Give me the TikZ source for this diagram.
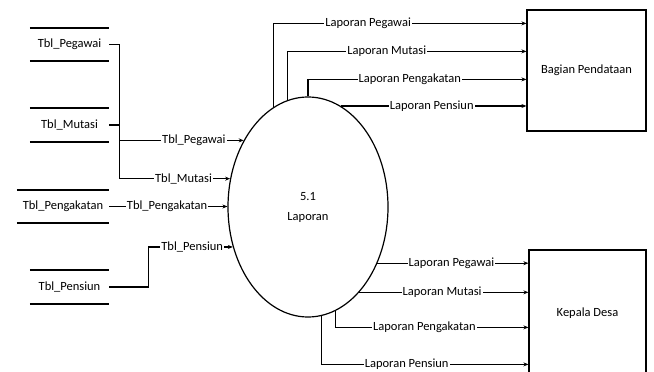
\documentclass[tikz,border=0pt]{standalone}
\usepackage{fontspec}
\setmainfont{Carlito}
\usetikzlibrary{shapes.geometric,arrows.meta}

\begin{document}
\begin{tikzpicture}[
    x=1pt, y=-1pt,
    font=\fontsize{12.5}{14}\selectfont,
    store/.style={minimum height=33pt, inner sep=0pt},
    storeline/.style={line width=2pt},
    process/.style={ellipse, draw, line width=1.2pt, minimum width=160pt, minimum height=220pt, inner sep=0pt, align=center, font=\fontsize{12.5}{20}\selectfont},
    entity/.style={rectangle, draw, line width=1.2pt, minimum width=119pt},
    arrow/.style={-{Stealth[length=5pt,width=4pt]}, line width=1.2pt},
    lbl/.style={fill=white, inner sep=1pt}
]
\useasboundingbox (0,0) rectangle (654,372);

% Data stores
\node[store, minimum width=79pt] (pegawai) at (69.5,44.5) {Tbl\_Pegawai};
\node[store, minimum width=79pt, minimum height=34pt] (mutasi) at (69.5,125) {Tbl\_Mutasi};
\node[store, minimum width=92pt] (pengakatan) at (63,206.5) {Tbl\_Pengakatan};
\node[store, minimum width=79pt, minimum height=34pt] (pensiun) at (69.5,287) {Tbl\_Pensiun};
\foreach \s in {pegawai,mutasi,pengakatan,pensiun}
    \draw[storeline] (\s.north west) -- (\s.north east) (\s.south west) -- (\s.south east);

% Process
\node[process] (proc) at (308,207) {5.1\\Laporan};

% External entities
\node[entity, minimum height=121pt] (bagian) at (586.5,70.5) {Bagian Pendataan};
\node[entity, minimum width=117pt, minimum height=126pt] (kepala) at (587.5,313) {Kepala Desa};

% Inputs
\draw[arrow] (pegawai.east) -- ++(10,0) |- node[lbl, pos=0.8] {Tbl\_Pegawai} (proc.134.1);
\draw[arrow] (mutasi.east) -- ++(10,0) |- node[lbl, pos=0.79] {Tbl\_Mutasi} (proc.160.8);
\draw[arrow] (pengakatan.east) -- node[lbl, pos=0.49] {Tbl\_Pengakatan} (pengakatan.east -| proc.west);
\draw[arrow] (pensiun.east) -- ++(39,0) |- node[lbl, pos=0.76] {Tbl\_Pensiun} (proc.208.9);

% Outputs to Bagian Pendataan
\draw[arrow] (proc.109.5) |- node[lbl, pos=0.687] {Laporan Pegawai} ([yshift=-14pt]bagian.north west);
\draw[arrow] (proc.101.2) |- node[lbl, pos=0.708] {Laporan Mutasi} ([yshift=-42pt]bagian.north west);
\draw[arrow] (proc.north) |- node[lbl, pos=0.733] {Laporan Pengakatan} ([yshift=-70pt]bagian.north west);
\draw[arrow] (proc.72.6) -- node[lbl, pos=0.49] {Laporan Pensiun} (proc.72.6 -| bagian.west);

% Outputs to Kepala Desa
\draw[arrow] (proc.-39.1) -- node[lbl, pos=0.49] {Laporan Pegawai} (proc.-39.1 -| kepala.west);
\draw[arrow] (proc.-59.1) -- node[lbl, pos=0.49] {Laporan Mutasi} (proc.-59.1 -| kepala.west);
\draw[arrow] (proc.-75.4) |- node[lbl, pos=0.73] {Laporan Pengakatan} ([yshift=-78pt]kepala.north west);
\draw[arrow] (proc.-83.7) |- node[lbl, pos=0.706] {Laporan Pensiun} ([yshift=-115pt]kepala.north west);

\end{tikzpicture}
\end{document}
